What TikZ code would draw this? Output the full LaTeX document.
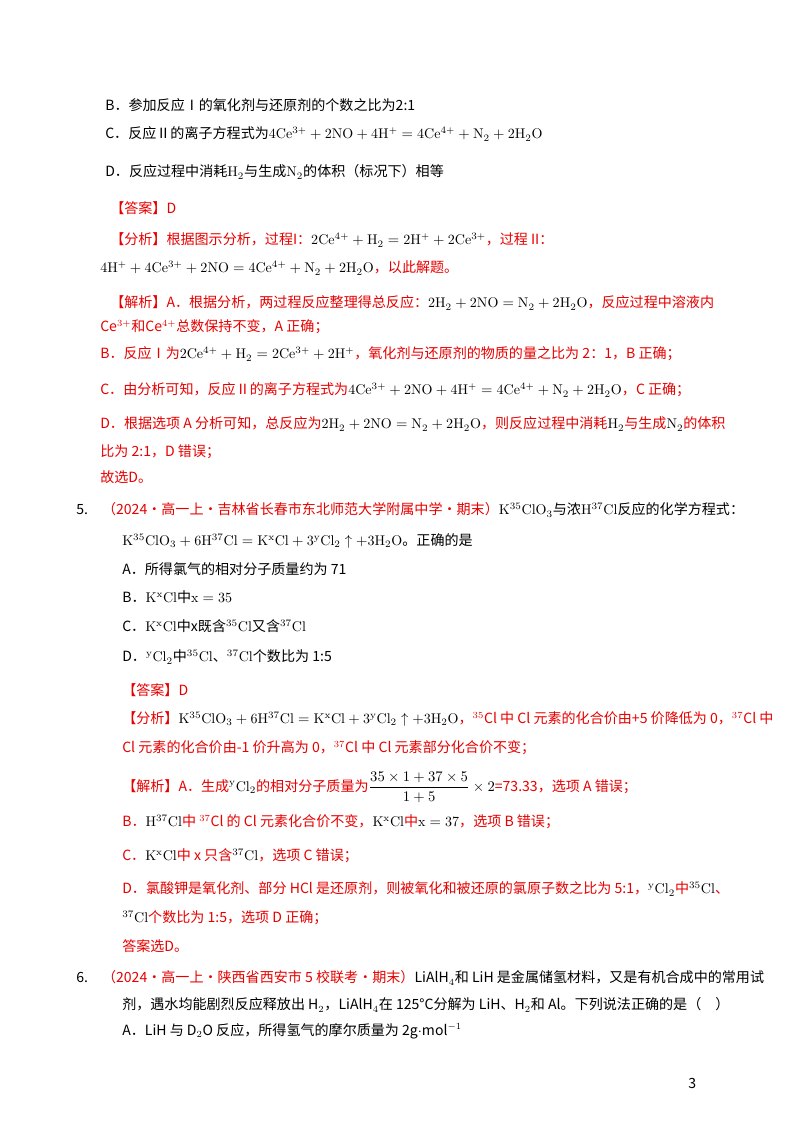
\documentclass[tikz,border=0pt]{standalone}
\usepackage{fontspec}
\usepackage{amsmath}
\newfontfamily\cjk{Noto Sans CJK SC}
\definecolor{rd}{RGB}{230,0,0}
\tikzset{ln/.style={anchor=west,inner sep=0pt,font=\cjk\fontsize{10.5}{12}\selectfont},r/.style={ln,text=rd}}
\newcommand{\ce}[1]{$\mathrm{#1}$}
\begin{document}
\begin{tikzpicture}[x=0.02625cm,y=-0.02625cm]
\useasboundingbox (0,0) rectangle (800,1132);
\node[ln] (l1) at (105,105) {B．参加反应Ⅰ的氧化剂与还原剂的个数之比为2:1};
\node[ln] (l2) at (105,134) {C．反应Ⅱ的离子方程式为\ce{4Ce^{3+}+2NO+4H^{+}=4Ce^{4+}+N_2+2H_2O}};
\node[ln] (l3) at (105,172) {D．反应过程中消耗\ce{H_2}与生成\ce{N_2}的体积（标况下）相等};
\node[r] (l4) at (110,208) {【答案】D};
\node[ln] (l5) at (110,240) {\textcolor{rd}{【分析】根据图示分析，过程I：}\ce{2Ce^{4+}+H_2=2H^{+}+2Ce^{3+}}\textcolor{rd}{，过程 II：}};
\node[ln] (l6) at (100,268) {\ce{4H^{+}+4Ce^{3+}+2NO=4Ce^{4+}+N_2+2H_2O}\textcolor{rd}{，以此解题。}};
\node[ln] (l7) at (110,303) {\textcolor{rd}{【解析】A．根据分析，两过程反应整理得总反应：}\ce{2H_2+2NO=N_2+2H_2O}\textcolor{rd}{，反应过程中溶液内}};
\node[r] (l8) at (100,327) {Ce$^{3+}$和Ce$^{4+}$总数保持不变，A 正确；};
\node[ln] (l9) at (100,354) {\textcolor{rd}{B．反应Ⅰ为}\ce{2Ce^{4+}+H_2=2Ce^{3+}+2H^{+}}\textcolor{rd}{，氧化剂与还原剂的物质的量之比为 2：1，B 正确；}};
\node[ln] (l10) at (100,390) {\textcolor{rd}{C．由分析可知，反应Ⅱ的离子方程式为}\ce{4Ce^{3+}+2NO+4H^{+}=4Ce^{4+}+N_2+2H_2O}\textcolor{rd}{，C 正确；}};
\node[ln] (l11) at (100,424) {\textcolor{rd}{D．根据选项 A 分析可知，总反应为}\ce{2H_2+2NO=N_2+2H_2O}\textcolor{rd}{，则反应过程中消耗}\ce{H_2}\textcolor{rd}{与生成}\ce{N_2}\textcolor{rd}{的体积}};
\node[r] (l12) at (100,452) {比为 2:1，D 错误；};
\node[r] (l13) at (100,477) {故选D。};
\node[ln] (l14) at (76,510) {5.\quad\textcolor{rd}{（2024·高一上·吉林省长春市东北师范大学附属中学·期末）}\ce{K^{35}ClO_3}与浓\ce{H^{37}Cl}反应的化学方程式：};
\node[ln] (l15) at (122,541) {\ce{K^{35}ClO_3+6H^{37}Cl=K^{x}Cl+3^{y}Cl_2\uparrow+3H_2O}。正确的是};
\node[ln] (l16) at (122,569) {A．所得氯气的相对分子质量约为 71};
\node[ln] (l17) at (122,597) {B．\ce{K^{x}Cl}中\ce{x=35}};
\node[ln] (l18) at (122,626) {C．\ce{K^{x}Cl}中x既含\ce{^{35}Cl}又含\ce{^{37}Cl}};
\node[ln] (l19) at (122,657) {D．\ce{^{y}Cl_2}中\ce{^{35}Cl}、\ce{^{37}Cl}个数比为 1:5};
\node[r] (l20) at (122,690) {【答案】D};
\node[ln] (l21) at (122,719) {\textcolor{rd}{【分析】}\ce{K^{35}ClO_3+6H^{37}Cl=K^{x}Cl+3^{y}Cl_2\uparrow+3H_2O}\textcolor{rd}{，$^{35}$Cl 中 Cl 元素的化合价由+5 价降低为 0，$^{37}$Cl 中}};
\node[r] (l22) at (122,748) {Cl 元素的化合价由-1 价升高为 0，$^{37}$Cl 中 Cl 元素部分化合价不变；};
\node[ln] (l23) at (122,787) {\textcolor{rd}{【解析】A．生成}\ce{^{y}Cl_2}\textcolor{rd}{的相对分子质量为}$\dfrac{35\times1+37\times5}{1+5}\times2$\textcolor{rd}{=73.33，选项 A 错误；}};
\node[ln] (l24) at (122,822) {\textcolor{rd}{B．}\ce{H^{37}Cl}\textcolor{rd}{ 中 $^{37}$Cl 的 Cl 元素化合价不变，}\ce{K^{x}Cl}\textcolor{rd}{中}\ce{x=37}\textcolor{rd}{，选项 B 错误；}};
\node[ln] (l25) at (122,856) {\textcolor{rd}{C．}\ce{K^{x}Cl}\textcolor{rd}{中 x 只含}\ce{^{37}Cl}\textcolor{rd}{，选项 C 错误；}};
\node[ln] (l26) at (122,889) {\textcolor{rd}{D．氯酸钾是氧化剂、部分 HCl 是还原剂，则被氧化和被还原的氯原子数之比为 5:1，}\ce{^{y}Cl_2}\textcolor{rd}{中}\ce{^{35}Cl}\textcolor{rd}{、}};
\node[ln] (l27) at (122,918) {\ce{^{37}Cl}\textcolor{rd}{个数比为 1:5，选项 D 正确；}};
\node[r] (l28) at (122,946) {答案选D。};
\node[ln] (l29) at (76,978) {6.\quad\textcolor{rd}{（2024·高一上·陕西省西安市 5 校联考·期末）}LiAlH$_4$和 LiH 是金属储氢材料，又是有机合成中的常用试};
\node[ln] (l30) at (122,1005) {剂，遇水均能剧烈反应释放出 H$_2$，LiAlH$_4$在 125°C分解为 LiH、H$_2$和 Al。下列说法正确的是（\quad）};
\node[ln] (l31) at (122,1031) {A．LiH 与 D$_2$O 反应，所得氢气的摩尔质量为 2g$\cdot$mol$^{-1}$};
\node[ln] (pg) at (688,1083) {3};
\end{tikzpicture}
\end{document}
